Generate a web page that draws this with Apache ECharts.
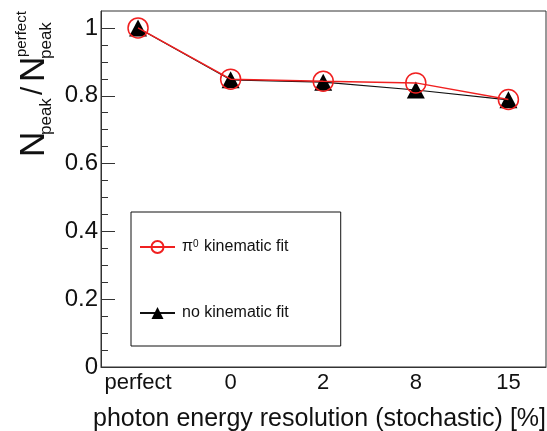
<!DOCTYPE html>
<html>
<head>
<meta charset="utf-8">
<script src="https://cdn.jsdelivr.net/npm/echarts@6/dist/echarts.min.js"></script>
<style>html,body{margin:0;padding:0;background:#fff}#c{width:547px;height:431px}</style>
</head>
<body>
<div id="c"></div>
<script>
var categories = ['perfect', '0', '2', '8', '15'];
var kinFit = [1.0, 0.849, 0.843, 0.838, 0.789];
var noKinFit = [1.0, 0.847, 0.840, 0.817, 0.788];
var yMajorTicks = [0, 0.2, 0.4, 0.6, 0.8, 1];
var yMinorTicks = [0.05,0.1,0.15,0.25,0.3,0.35,0.45,0.5,0.55,0.65,0.7,0.75,0.85,0.9,0.95];
var xTitle = 'photon energy resolution (stochastic) [%]';

var FONT = '"Liberation Sans", Arial, Helvetica, sans-serif';
var chart = echarts.init(document.getElementById('c'), null, {renderer: 'canvas'});

function pts(arr) { return arr.map(function (v, i) { return [i, v]; }); }

var option = {
  animation: false,
  backgroundColor: '#fff',
  textStyle: {fontFamily: FONT},
  grid: {left: 101, right: 1, top: 11, bottom: 64, show: true, borderColor: '#333', borderWidth: 1, backgroundColor: 'transparent'},
  legend: {
    orient: 'vertical', left: 131, top: 212,
    data: ['kin', 'nokin'],
    formatter: function (n) { return n === 'kin' ? '{a|π}{s|0}{a| kinematic fit}' : '{a|no kinematic fit}'; },
    itemWidth: 35, itemHeight: 15, itemGap: 50,
    padding: [27, 52, 25, 8],
    borderColor: '#111', borderWidth: 1,
    textStyle: {
      fontFamily: FONT, fontSize: 16, color: '#111', lineHeight: 16, padding: [0, 0, 0, 2],
      rich: {
        a: {fontFamily: FONT, fontSize: 16, color: '#111', lineHeight: 16},
        s: {fontFamily: FONT, fontSize: 10, color: '#111', lineHeight: 16, verticalAlign: 'top', padding: [0, 1, 6, 0]}
      }
    }
  },
  xAxis: {
    type: 'value', min: -0.4, max: 4.406,
    axisLine: {show: true, onZero: false, lineStyle: {color: '#333', width: 1}},
    axisTick: {show: false},
    splitLine: {show: false},
    axisLabel: {
      customValues: [0, 1, 2, 3, 4],
      formatter: function (v) { return categories[Math.round(v)]; },
      fontFamily: FONT, fontSize: 22, color: '#111', margin: 5
    }
  },
  yAxis: [{
    type: 'value', min: 0, max: 1.05, position: 'left', offset: 0,
    axisLine: {show: true, onZero: false, lineStyle: {color: '#333', width: 1}},
    axisTick: {show: true, inside: true, length: 14, customValues: yMajorTicks, lineStyle: {color: '#333'}},
    axisLabel: {customValues: yMajorTicks, fontFamily: FONT, fontSize: 24, color: '#111', margin: 3},
    splitLine: {show: false}
  }, {
    type: 'value', min: 0, max: 1.05, position: 'left', offset: 0,
    axisLine: {show: false, onZero: false},
    axisTick: {show: true, inside: true, length: 7, customValues: yMinorTicks, lineStyle: {color: '#333'}},
    axisLabel: {show: false},
    splitLine: {show: false}
  }],
  series: [{
    name: 'nokin', type: 'line', data: pts(noKinFit), yAxisIndex: 0,
    symbol: 'triangle', symbolSize: [18, 17],
    itemStyle: {color: '#000'},
    lineStyle: {color: '#111', width: 1.2},
    z: 2
  }, {
    name: 'kin', type: 'line', data: pts(kinFit), yAxisIndex: 0,
    symbol: 'circle', symbolSize: 20,
    itemStyle: {color: 'rgba(0,0,0,0)', borderColor: '#f02020', borderWidth: 1.5},
    lineStyle: {color: '#f02020', width: 1.5},
    z: 3
  }],
  graphic: [{
    type: 'group', x: 0, y: 160, rotation: Math.PI / 2,
    children: [
      {type: 'text', x: 3, y: 34, style: {text: 'N', font: '35px ' + FONT, fill: '#111', verticalAlign: 'middle'}},
      {type: 'text', x: 25, y: 46, style: {text: 'peak', font: '17px ' + FONT, fill: '#111', verticalAlign: 'middle'}},
      {type: 'text', x: 65, y: 34, style: {text: '/', font: '30px ' + FONT, fill: '#111', verticalAlign: 'middle'}},
      {type: 'text', x: 78, y: 34, style: {text: 'N', font: '35px ' + FONT, fill: '#111', verticalAlign: 'middle'}},
      {type: 'text', x: 101, y: 46, style: {text: 'peak', font: '17px ' + FONT, fill: '#111', verticalAlign: 'middle'}},
      {type: 'text', x: 103, y: 22, style: {text: 'perfect', font: '15px ' + FONT, fill: '#111', verticalAlign: 'middle'}}
    ]
  }, {
    type: 'text', right: 1, top: 407,
    style: {text: xTitle, font: '25px ' + FONT, fill: '#111'}
  }]
};
chart.setOption(option);
</script>
</body>
</html>
